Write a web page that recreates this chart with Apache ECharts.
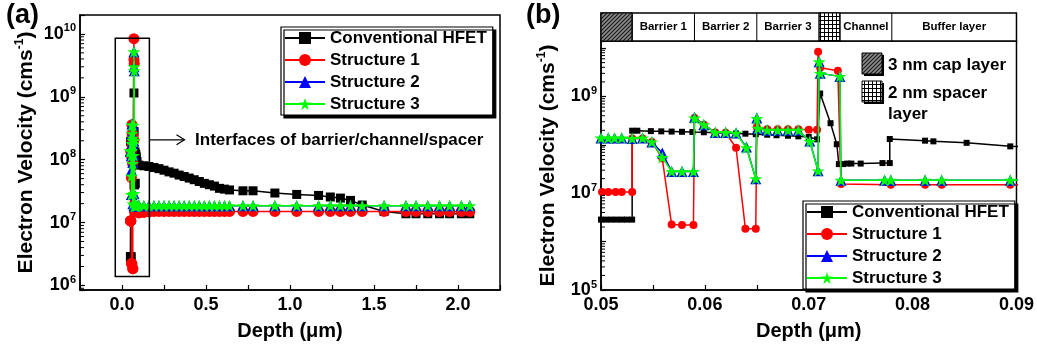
<!DOCTYPE html>
<html>
<head>
<meta charset="utf-8">
<title>Electron velocity vs depth</title>
<script src="https://cdn.jsdelivr.net/npm/echarts@6/dist/echarts.min.js"></script>
<style>
  html, body { margin: 0; padding: 0; background: #fff; }
  #chart { width: 1037px; height: 346px; }
</style>
</head>
<body>
<div id="chart"></div>
<script>
// depth in µm, electron velocity in cm/s
const seriesNames = ['Conventional HFET', 'Structure 1', 'Structure 2', 'Structure 3']

// points around the barrier / spacer / channel interfaces (panel b range)
const convNear = [
  [0.0500, 2.85e6], [0.0505, 2.85e6], [0.0510, 2.85e6], [0.0515, 2.85e6], [0.0520, 2.85e6], [0.0525, 2.85e6], [0.0530, 2.85e6],
  [0.0530, 1.96e8], [0.0535, 1.96e8], [0.0548, 1.92e8], [0.0558, 1.90e8], [0.0568, 1.88e8], [0.0578, 1.86e8], [0.0588, 1.84e8],
  [0.0599, 1.82e8], [0.0610, 1.78e8], [0.0620, 1.75e8], [0.0630, 1.72e8], [0.0639, 1.70e8], [0.0649, 1.66e8], [0.0660, 1.62e8],
  [0.0669, 1.58e8], [0.0680, 1.54e8], [0.0690, 1.50e8], [0.0700, 1.45e8], [0.0708, 1.30e8],
  [0.0711, 1.15e9], [0.0721, 2.8e8], [0.0727, 1.03e8], [0.0729, 4.0e7], [0.0733, 4.0e7], [0.0737, 4.1e7], [0.0741, 4.1e7],
  [0.0750, 4.1e7], [0.0771, 4.2e7], [0.0778, 4.2e7],
  [0.0778, 1.32e8], [0.0812, 1.22e8], [0.0820, 1.18e8], [0.0852, 1.10e8], [0.0894, 9.3e7]
]
const s1Near = [
  [0.0501, 1.06e7], [0.0507, 1.06e7], [0.0514, 1.06e7], [0.0520, 1.06e7], [0.0530, 1.06e7],
  [0.0530, 1.35e8], [0.0540, 1.35e8], [0.0549, 1.15e8], [0.0559, 5.2e7], [0.0568, 2.25e6], [0.0578, 2.2e6], [0.0589, 2.2e6],
  [0.0590, 3.6e8], [0.0599, 2.6e8], [0.0610, 1.8e8], [0.0620, 1.78e8], [0.0630, 8.7e7], [0.0639, 1.85e6], [0.0649, 1.85e6],
  [0.0650, 2.3e8], [0.0660, 2.1e8], [0.0670, 2.1e8], [0.0680, 2.1e8], [0.0690, 2.1e8], [0.0700, 2.05e8], [0.0708, 2.05e8],
  [0.0709, 8.4e9], [0.0711, 3.9e9], [0.0728, 3.4e9], [0.0731, 1.55e7], [0.0779, 1.5e7], [0.0812, 1.5e7], [0.0828, 1.5e7],
  [0.0894, 1.5e7]
]
const s2Near = [
  [0.0500, 1.38e8], [0.0507, 1.38e8], [0.0513, 1.38e8], [0.0520, 1.38e8], [0.0530, 1.35e8], [0.0540, 1.38e8], [0.0549, 1.15e8],
  [0.0559, 6.8e7], [0.0568, 2.8e7], [0.0578, 2.8e7], [0.0589, 2.8e7],
  [0.0590, 3.7e8], [0.0599, 2.6e8], [0.0610, 1.8e8], [0.0620, 1.8e8], [0.0630, 1.75e8], [0.0640, 9.0e7], [0.0649, 2.0e7],
  [0.0650, 3.6e8], [0.0651, 2.2e8], [0.0660, 2.0e8], [0.0670, 2.0e8], [0.0680, 2.0e8], [0.0690, 2.0e8], [0.0701, 1.2e8],
  [0.0709, 2.9e7], [0.0710, 5.2e9], [0.0711, 3.0e9], [0.0730, 2.6e9], [0.0731, 1.85e7], [0.0773, 1.85e7], [0.0779, 1.85e7],
  [0.0812, 1.85e7], [0.0828, 1.85e7], [0.0894, 1.85e7]
]
const s3Near = [
  [0.0500, 1.38e8], [0.0507, 1.38e8], [0.0513, 1.38e8], [0.0520, 1.38e8], [0.0530, 1.35e8], [0.0540, 1.38e8], [0.0549, 1.15e8],
  [0.0559, 5.5e7], [0.0568, 2.8e7], [0.0578, 2.8e7], [0.0589, 2.8e7],
  [0.0590, 3.6e8], [0.0599, 2.6e8], [0.0610, 1.8e8], [0.0620, 1.8e8], [0.0630, 1.75e8], [0.0640, 8.7e7], [0.0649, 2.0e7],
  [0.0650, 3.5e8], [0.0651, 2.2e8], [0.0660, 2.0e8], [0.0670, 2.0e8], [0.0680, 2.0e8], [0.0690, 2.0e8], [0.0701, 1.17e8],
  [0.0709, 2.9e7], [0.0710, 5.2e9], [0.0711, 3.0e9], [0.0730, 2.6e9], [0.0731, 1.85e7], [0.0773, 1.85e7], [0.0779, 1.85e7],
  [0.0812, 1.85e7], [0.0828, 1.85e7], [0.0894, 1.85e7]
]

// buffer part, only visible in panel a
const depthTail = [0.10, 0.13, 0.16, 0.19, 0.22, 0.25, 0.28, 0.31, 0.34, 0.37, 0.40, 0.43, 0.46, 0.49, 0.52, 0.55, 0.58, 0.61,
  0.64, 0.72, 0.78, 0.91, 1.04, 1.17, 1.24, 1.30, 1.36, 1.43, 1.56, 1.69, 1.75, 1.82, 1.89, 1.95, 2.02, 2.07]
const convTail = [8.2e7, 8.0e7, 7.8e7, 7.5e7, 7.2e7, 6.8e7, 6.4e7, 6.1e7, 5.7e7, 5.4e7, 5.1e7, 4.8e7, 4.5e7, 4.2e7, 4.0e7, 3.8e7,
  3.5e7, 3.4e7, 3.3e7, 3.2e7, 3.2e7, 2.95e7, 2.8e7, 2.7e7, 2.55e7, 2.45e7, 2.25e7, 1.9e7, 1.5e7, 1.38e7, 1.38e7, 1.38e7,
  1.38e7, 1.38e7, 1.38e7, 1.38e7]
const s1Tail = [1.42e7, 1.45e7, 1.48e7, 1.5e7, 1.5e7, 1.5e7, 1.5e7, 1.5e7, 1.5e7, 1.5e7, 1.5e7, 1.5e7, 1.5e7, 1.5e7, 1.5e7, 1.5e7,
  1.5e7, 1.5e7, 1.5e7, 1.5e7, 1.5e7, 1.5e7, 1.5e7, 1.5e7, 1.5e7, 1.5e7, 1.5e7, 1.5e7, 1.5e7, 1.5e7, 1.5e7, 1.5e7,
  1.5e7, 1.5e7, 1.5e7, 1.5e7]
const s2Tail = [1.9e7, 1.85e7, 1.85e7, 1.85e7, 1.85e7, 1.85e7, 1.85e7, 1.85e7, 1.85e7, 1.85e7, 1.85e7, 1.85e7, 1.85e7, 1.85e7,
  1.85e7, 1.85e7, 1.85e7, 1.85e7, 1.85e7, 1.85e7, 1.85e7, 1.85e7, 1.85e7, 1.85e7, 1.85e7, 1.85e7, 1.85e7, 1.85e7, 1.85e7,
  1.85e7, 1.85e7, 1.85e7, 1.85e7, 1.85e7, 1.85e7, 1.85e7]
const s3Tail = [1.9e7, 1.85e7, 1.85e7, 1.85e7, 1.85e7, 1.85e7, 1.85e7, 1.85e7, 1.85e7, 1.85e7, 1.85e7, 1.85e7, 1.85e7, 1.85e7,
  1.85e7, 1.85e7, 1.85e7, 1.85e7, 1.85e7, 1.85e7, 1.85e7, 1.85e7, 1.85e7, 1.85e7, 1.85e7, 1.85e7, 1.85e7, 1.85e7, 1.85e7,
  1.85e7, 1.85e7, 1.85e7, 1.85e7, 1.85e7, 1.85e7, 1.85e7]

// tick labels (powers of ten) and the layer strip of panel b
const yExpA = [6, 7, 8, 9, 10]
const yExpB = [5, 7, 9]
const layerEdges = [0.05, 0.053, 0.059, 0.065, 0.071, 0.073, 0.078, 0.09]
const layerNames = ['', 'Barrier 1', 'Barrier 2', 'Barrier 3', '', 'Channel', 'Buffer layer']
const layerFill = ['cap', '', '', '', 'spacer', '', '']

const FONT = '"Liberation Sans", Arial, Helvetica, sans-serif'
const STAR = 'path://M50,0L61.2,34.6L97.6,34.5L68.1,55.9L79.4,90.5L50,69L20.6,90.5L31.9,55.9L2.4,34.5L38.8,34.6Z'
const colors = ['#000000', '#ff0000', '#0000ff', '#00ff00']
const symbols = ['rect', 'circle', 'triangle', STAR]

const withTail = (near, tail) => near.concat(depthTail.map((d, i) => [d, tail[i]]))
const seriesData = [
  withTail(convNear, convTail),
  withTail(s1Near, s1Tail),
  withTail(s2Near, s2Tail),
  withTail(s3Near, s3Tail),
]

const chart = echarts.init(document.getElementById('chart'))

// 10^n labels
const powLabel = (exps) => (v) => {
  const e = Math.log10(v)
  const r = Math.round(e)
  if (Math.abs(e - r) > 1e-6 || exps.indexOf(r) < 0) return ''
  return '{b|10}{s|' + r + '}'
}
const powRich = {
  b: { fontSize: 18, fontWeight: 'bold', fontFamily: FONT, color: '#000' },
  s: { fontSize: 11, fontWeight: 'bold', fontFamily: FONT, color: '#000', padding: [0, 0, 11, 0] },
}
const isStep = (v, step) => Math.abs(v / step - Math.round(v / step)) < 1e-6

const nameStyle = (size) => ({
  fontSize: size,
  fontWeight: 'bold',
  fontFamily: FONT,
  color: '#000',
  rich: {
    s: { fontSize: 12, fontWeight: 'bold', fontFamily: FONT, color: '#000', padding: [0, 0, 12, 0] },
  },
})

const axisLine = { show: true, onZero: false, lineStyle: { color: '#000', width: 1.5 } }
const axisTick = { show: true, inside: true, length: 5, lineStyle: { color: '#000', width: 1.2 } }

const makeX = (grid, min, max, interval, labelStep, digits) => ({
  type: 'value',
  gridIndex: grid,
  min,
  max,
  interval,
  axisLine,
  axisTick,
  splitLine: { show: false },
  axisLabel: {
    margin: 6,
    fontSize: 18,
    fontWeight: 'bold',
    fontFamily: FONT,
    color: '#000',
    formatter: (v) => (isStep(v, labelStep) ? v.toFixed(digits) : ''),
  },
  name: 'Depth (\u03bcm)',
  nameLocation: 'middle',
  nameGap: 31,
  nameTextStyle: nameStyle(20),
})

const makeY = (grid, min, max, exps, gap) => ({
  type: 'log',
  logBase: 10,
  gridIndex: grid,
  min,
  max,
  axisLine,
  axisTick,
  splitLine: { show: false },
  axisLabel: { margin: 4, formatter: powLabel(exps), rich: powRich },
  name: 'Electron Velocity (cms{s|-1})',
  nameLocation: 'middle',
  nameGap: gap,
  nameTextStyle: nameStyle(21),
})

const makeLegend = (left, top) => ({
  data: seriesNames,
  orient: 'vertical',
  left,
  top,
  itemWidth: 40,
  itemHeight: 15,
  itemGap: 4,
  padding: [2, 6, 2, 3],
  selectedMode: false,
  backgroundColor: '#fff',
  borderColor: '#000',
  borderWidth: 1.2,
  borderRadius: 0,
  shadowColor: '#000',
  shadowBlur: 0,
  shadowOffsetX: 3,
  shadowOffsetY: 3,
  textStyle: { fontSize: 17, fontWeight: 'bold', fontFamily: FONT, color: '#000', lineHeight: 18 },
})

const symbolSizeA = [9, 11, 11, 13]
const symbolSizeB = [6, 8, 11, 13]

const makeSeries = (grid, sizes) =>
  seriesNames.map((name, i) => ({
    name,
    type: 'line',
    xAxisIndex: grid,
    yAxisIndex: grid,
    data: seriesData[i],
    symbol: symbols[i],
    symbolSize: sizes[i],
    symbolKeepAspect: true,
    showAllSymbol: true,
    clip: true,
    lineStyle: { color: colors[i], width: 1.5 },
    itemStyle: { color: colors[i], borderWidth: 0 },
    emphasis: { disabled: true },
    z: 2 + i,
  }))

const option = {
  animation: false,
  backgroundColor: '#fff',
  grid: [
    { left: 80, right: 537, top: 15, bottom: 49, show: true, borderColor: '#000', borderWidth: 1.5 },
    { left: 601, right: 17, top: 41, bottom: 49, show: true, borderColor: '#000', borderWidth: 1.5 },
  ],
  xAxis: [
    makeX(0, -0.25, 2.25, 0.25, 0.5, 1),
    makeX(1, 0.05, 0.09, 0.005, 0.01, 2),
  ],
  yAxis: [
    makeY(0, 8.46e5, 2.0e10, yExpA, 42),
    makeY(1, 1e5, 1.4e10, yExpB, 41),
  ],
  legend: [makeLegend(281, 27), makeLegend(803, 201)],
  series: makeSeries(0, symbolSizeA).concat(makeSeries(1, symbolSizeB)),
}

chart.setOption(option)

// ---- annotations (box, arrow, layer strip, log minor ticks) ----
const hatchCap = () => {
  const c = document.createElement('canvas')
  c.width = 4
  c.height = 4
  const g = c.getContext('2d')
  g.fillStyle = '#8c8c8c'
  g.fillRect(0, 0, 4, 4)
  g.strokeStyle = '#1a1a1a'
  g.lineWidth = 1.2
  g.beginPath()
  g.moveTo(-1, 5); g.lineTo(5, -1)
  g.moveTo(-1, 1); g.lineTo(1, -1)
  g.moveTo(3, 5); g.lineTo(5, 3)
  g.stroke()
  return { image: c, repeat: 'repeat' }
}
const hatchSpacer = () => {
  const c = document.createElement('canvas')
  c.width = 4
  c.height = 4
  const g = c.getContext('2d')
  g.fillStyle = '#fff'
  g.fillRect(0, 0, 4, 4)
  g.fillStyle = '#000'
  g.fillRect(0, 0, 4, 1)
  g.fillRect(0, 0, 1, 4)
  return { image: c, repeat: 'repeat' }
}
const patterns = { cap: hatchCap(), spacer: hatchSpacer() }

const toPx = (grid, x, y) => chart.convertToPixel({ gridIndex: grid }, [x, y])
const boldText = (size) => ({ fontSize: size, fontWeight: 'bold', fontFamily: FONT, fill: '#000' })

// minor ticks at 2..9 x 10^n on a log axis
const logMinorTicks = (grid, xAxisVal, lo, hi) => {
  const out = []
  for (let n = Math.floor(Math.log10(lo)); n <= Math.ceil(Math.log10(hi)); n++) {
    for (let m = 2; m <= 9; m++) {
      const v = m * Math.pow(10, n)
      if (v <= lo || v >= hi) continue
      const p = toPx(grid, xAxisVal, v)
      out.push({ type: 'line', shape: { x1: p[0], y1: p[1], x2: p[0] + 4, y2: p[1] }, style: { stroke: '#000', lineWidth: 1 }, z: 9 })
    }
  }
  return out
}

const buildAnnotations = () => {
  const els = []

  // panel letters
  els.push({ type: 'text', left: 6, top: 2, style: { text: '(a)', ...boldText(27) } })
  els.push({ type: 'text', left: 526, top: 2, style: { text: '(b)', ...boldText(27) } })

  els.push(...logMinorTicks(0, -0.25, 8.46e5, 2.0e10))
  els.push(...logMinorTicks(1, 0.05, 1e5, 1.4e10))

  // box around the interface region in panel a
  const b0 = toPx(0, -0.04, 8.5e9)
  const b1 = toPx(0, 0.163, 1.39e6)
  els.push({
    type: 'rect',
    shape: { x: b0[0], y: b0[1], width: b1[0] - b0[0], height: b1[1] - b0[1] },
    style: { fill: 'none', stroke: '#000', lineWidth: 1.5 },
    z: 10,
  })
  const a0 = toPx(0, 0.163, 2.07e8)
  const a1 = toPx(0, 0.372, 2.07e8)
  els.push({ type: 'line', shape: { x1: a0[0], y1: a0[1], x2: a1[0], y2: a1[1] }, style: { stroke: '#000', lineWidth: 1.2 }, z: 10 })
  els.push({
    type: 'polyline',
    shape: { points: [[a1[0] - 8, a1[1] - 5], [a1[0], a1[1]], [a1[0] - 8, a1[1] + 5]] },
    style: { fill: 'none', stroke: '#000', lineWidth: 1.2 },
    z: 10,
  })
  const t0 = toPx(0, 0.435, 2.07e8)
  els.push({
    type: 'text',
    x: t0[0],
    y: t0[1],
    style: { text: 'Interfaces of barrier/channel/spacer', ...boldText(17), verticalAlign: 'middle', align: 'left' },
    z: 10,
  })

  // layer strip above panel b
  const stripTop = 13
  const stripBottom = toPx(1, 0.05, 1.4e10)[1]
  const xs = layerEdges.map((d) => toPx(1, d, 1e9)[0])
  els.push({
    type: 'rect',
    shape: { x: xs[0], y: stripTop, width: xs[xs.length - 1] - xs[0], height: stripBottom - stripTop },
    style: { fill: '#fff', stroke: '#000', lineWidth: 1.5 },
    z: 10,
  })
  layerNames.forEach((name, i) => {
    const x0 = xs[i]
    const x1 = xs[i + 1]
    if (layerFill[i]) {
      els.push({
        type: 'rect',
        shape: { x: x0, y: stripTop, width: x1 - x0, height: stripBottom - stripTop },
        style: { fill: patterns[layerFill[i]], stroke: '#000', lineWidth: 1.2 },
        z: 11,
      })
    }
    if (i < layerNames.length - 1) {
      els.push({ type: 'line', shape: { x1, y1: stripTop, x2: x1, y2: stripBottom }, style: { stroke: '#000', lineWidth: 1 }, z: 11 })
    }
    if (name) {
      els.push({
        type: 'text',
        x: (x0 + x1) / 2,
        y: (stripTop + stripBottom) / 2,
        style: { text: name, ...boldText(11.5), align: 'center', verticalAlign: 'middle' },
        z: 12,
      })
    }
  })

  // pattern key inside panel b
  const keys = [
    { fill: 'cap', y: 53, lines: ['3 nm cap layer'] },
    { fill: 'spacer', y: 81, lines: ['2 nm spacer', 'layer'] },
  ]
  keys.forEach((k) => {
    els.push({ type: 'rect', shape: { x: 864, y: k.y + 2, width: 20, height: 21 }, style: { fill: '#000', stroke: 'none' }, z: 10 })
    els.push({
      type: 'rect',
      shape: { x: 862, y: k.y, width: 20, height: 21 },
      style: { fill: patterns[k.fill], stroke: '#000', lineWidth: 1 },
      z: 11,
    })
    k.lines.forEach((line, j) => {
      els.push({
        type: 'text',
        x: 888,
        y: k.y + 12 + j * 21,
        style: { text: line, ...boldText(17), verticalAlign: 'middle', align: 'left' },
        z: 11,
      })
    })
  })

  return els
}

chart.setOption({ graphic: buildAnnotations() })
</script>
</body>
</html>
